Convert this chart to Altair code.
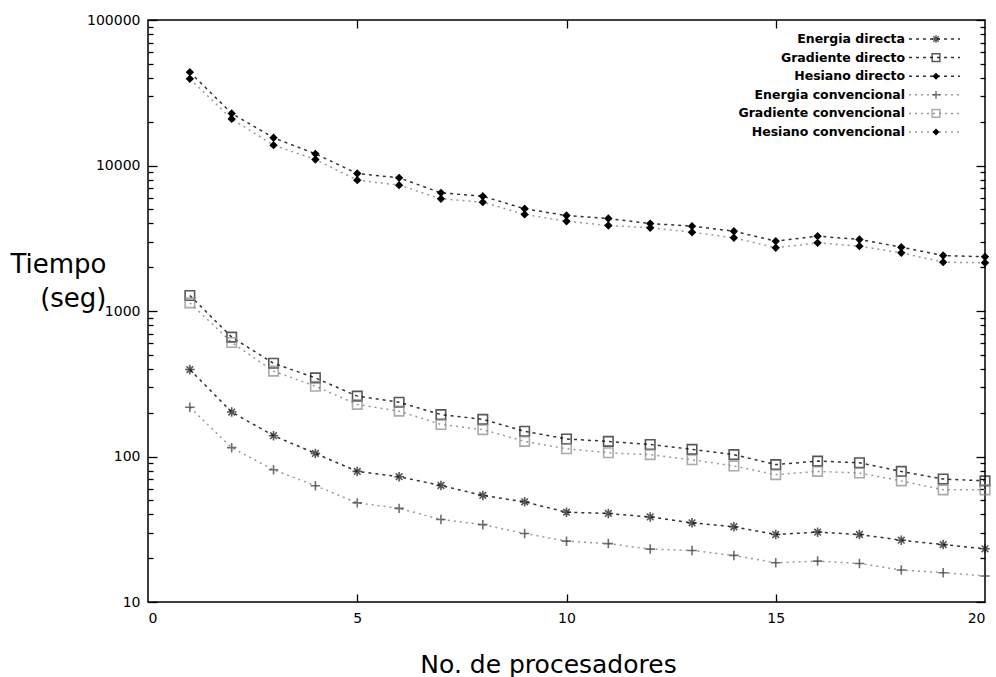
import altair as alt
import pandas as pd

procesadores = list(range(1, 21))
series = ["Energia directa", "Gradiente directo", "Hesiano directo",
          "Energia convencional", "Gradiente convencional", "Hesiano convencional"]

energia_directa = [396, 202, 139, 105, 79, 72.6, 63.2, 54, 48.8, 41.4, 40.6, 38.4, 35, 32.9, 29.1, 30.2, 29.1, 26.6, 24.8, 23.2]
gradiente_directo = [1278, 661, 437, 347, 260, 236, 194, 180, 149, 132, 127, 121, 112, 103, 88, 93, 90.6, 79, 70, 68]
hesiano_directo = [43800, 22800, 15500, 12030, 8810, 8230, 6490, 6150, 5040, 4530, 4320, 3990, 3830, 3535, 3020, 3270, 3100, 2745, 2405, 2358]
energia_conv = [218, 115, 81, 63, 48, 44, 36.9, 34, 29.6, 26.2, 25.2, 23.1, 22.6, 20.9, 18.6, 19.1, 18.4, 16.6, 15.9, 15.1]
gradiente_conv = [1138, 608, 386, 304, 228, 205, 166, 153, 127, 113, 106, 103, 95, 86, 75, 79, 77, 68, 59, 59]
hesiano_conv = [39400, 20900, 13800, 11000, 7930, 7330, 5900, 5600, 4610, 4140, 3870, 3730, 3480, 3185, 2720, 2940, 2790, 2510, 2165, 2145]

values = [energia_directa, gradiente_directo, hesiano_directo, energia_conv, gradiente_conv, hesiano_conv]

y_major = [10, 100, 1000, 10000, 100000]
y_all = [m * d for d in [10, 100, 1000, 10000] for m in range(1, 10)] + [100000]
x_major = [0, 5, 10, 15, 20]

rows = []
for name, vals in zip(series, values):
    for p, v in zip(procesadores, vals):
        rows.append({"serie": name, "procesadores": p, "tiempo": v})
df = pd.DataFrame(rows)

W, H = 837, 582
FONT = "DejaVu Sans"

asterisk = "M-1,0L1,0M0,-1L0,1M-0.7,-0.7L0.7,0.7M-0.7,0.7L0.7,-0.7"
plus = "M-1,0L1,0M0,-1L0,1"

line_color = alt.Scale(domain=series, range=["#333", "#333", "#333", "#999", "#999", "#999"])
line_dash = alt.Scale(domain=series, range=[[3, 4], [3, 4], [3, 4], [2, 4], [2, 4], [2, 4]])
open_series = ["Energia directa", "Gradiente directo", "Energia convencional", "Gradiente convencional"]
filled_series = ["Hesiano directo", "Hesiano convencional"]
shape_scale = alt.Scale(domain=open_series, range=[asterisk, "square", plus, "square"])
stroke_scale = alt.Scale(domain=open_series, range=["#111", "#111", "#333", "#888"])

xscale = alt.Scale(domain=[0, 20], nice=False)
yscale = alt.Scale(type="log", domain=[10, 100000], nice=False)

base = alt.Chart(df)

# layer 1: lines, with labelled axes
lines = base.mark_line(strokeWidth=1.5).encode(
    x=alt.X("procesadores:Q", scale=xscale,
            axis=alt.Axis(values=x_major, ticks=False, domain=False, grid=False,
                          labelPadding=9, labelFont=FONT, labelFontSize=14, labelColor="black",
                          title="No. de procesadores", titleFont=FONT, titleFontSize=25,
                          titleFontWeight="normal", titleColor="black",
                          titleX=400, titleY=70, titleBaseline="alphabetic")),
    y=alt.Y("tiempo:Q", scale=yscale,
            axis=alt.Axis(values=y_major, format="d", ticks=False, domain=False, grid=False,
                          labelPadding=8, labelFont=FONT, labelFontSize=14, labelColor="black",
                          title=["Tiempo", "(seg)"], titleFont=FONT, titleFontSize=26,
                          titleFontWeight="normal", titleColor="black", titleAngle=0,
                          titleAlign="right", titleX=-42, titleY=252,
                          titleBaseline="alphabetic", titleLineHeight=34)),
    color=alt.Color("serie:N", scale=line_color, legend=None),
    strokeDash=alt.StrokeDash("serie:N", scale=line_dash, legend=None),
    detail="serie:N",
)

tick_cond = {"condition": {"test": "indexof([10,100,1000,10000,100000], datum.value) >= 0", "value": 9}, "value": 5}

# layer 2: open markers, carrying inward ticks on bottom and left edges
open_pts = base.transform_filter(
    alt.FieldOneOfPredicate(field="serie", oneOf=open_series)
).mark_point(filled=False, strokeWidth=1.6, size=90).encode(
    x=alt.X("procesadores:Q", scale=xscale,
            axis=alt.Axis(orient="top", offset=-H, values=[5, 10, 15], tickSize=8, tickColor="black",
                          tickWidth=1.3, labels=False, domain=False, grid=False, title=None)),
    y=alt.Y("tiempo:Q", scale=yscale,
            axis=alt.Axis(orient="right", offset=-W, values=y_all, tickSize=tick_cond, tickColor="black",
                          tickWidth=1.3, labels=False, domain=False, grid=False, title=None)),
    shape=alt.Shape("serie:N", scale=shape_scale, legend=None),
    stroke=alt.Stroke("serie:N", scale=stroke_scale, legend=None),
)

# layer 3: filled diamonds, carrying inward ticks on top and right edges
filled_pts = base.transform_filter(
    alt.FieldOneOfPredicate(field="serie", oneOf=filled_series)
).mark_point(filled=True, shape="diamond", size=70, color="black", opacity=1).encode(
    x=alt.X("procesadores:Q", scale=xscale,
            axis=alt.Axis(orient="bottom", offset=-H, values=[5, 10, 15], tickSize=8, tickColor="black",
                          tickWidth=1.3, labels=False, domain=False, grid=False, title=None)),
    y=alt.Y("tiempo:Q", scale=yscale,
            axis=alt.Axis(orient="left", offset=-W, values=y_all, tickSize=tick_cond, tickColor="black",
                          tickWidth=1.3, labels=False, domain=False, grid=False, title=None)),
)

# manual legend (label left of sample, as in the original); pixel offsets inside the plot area
leg_top, leg_step = 19, 18.6
leg_df = pd.DataFrame({"serie": series, "ly": [leg_top + i * leg_step for i in range(len(series))]})
leg = alt.Chart(leg_df)

leg_text = leg.mark_text(align="right", baseline="middle", font="DejaVu Sans", fontWeight="bold",
                         fontSize=12.5, color="black").encode(
    x=alt.value(757), y=alt.Y("ly:Q", scale=None, axis=None), text="serie:N")
leg_line = leg.mark_rule(strokeWidth=1.5).encode(
    x=alt.value(761), x2=alt.value(812), y=alt.Y("ly:Q", scale=None, axis=None),
    color=alt.Color("serie:N", scale=line_color, legend=None),
    strokeDash=alt.StrokeDash("serie:N", scale=line_dash, legend=None))
leg_open = leg.transform_filter(
    alt.FieldOneOfPredicate(field="serie", oneOf=open_series)
).mark_point(filled=False, strokeWidth=1.4, size=60).encode(
    x=alt.value(788), y=alt.Y("ly:Q", scale=None, axis=None),
    shape=alt.Shape("serie:N", scale=shape_scale, legend=None),
    stroke=alt.Stroke("serie:N", scale=stroke_scale, legend=None))
leg_filled = leg.transform_filter(
    alt.FieldOneOfPredicate(field="serie", oneOf=filled_series)
).mark_point(filled=True, shape="diamond", size=50, color="black", opacity=1).encode(
    x=alt.value(788), y=alt.Y("ly:Q", scale=None, axis=None))

chart = alt.layer(lines, open_pts, filled_pts, leg_text, leg_line, leg_open, leg_filled).resolve_axis(
    x="independent", y="independent"
).properties(
    width=W, height=H,
    autosize=alt.AutoSizeParams(type="none"),
    padding={"left": 148, "top": 20, "right": 11, "bottom": 75},
    background="white",
).configure_view(stroke="black", strokeWidth=1.5)

chart.save("out.html", embed_options={"renderer": "svg", "actions": False})
